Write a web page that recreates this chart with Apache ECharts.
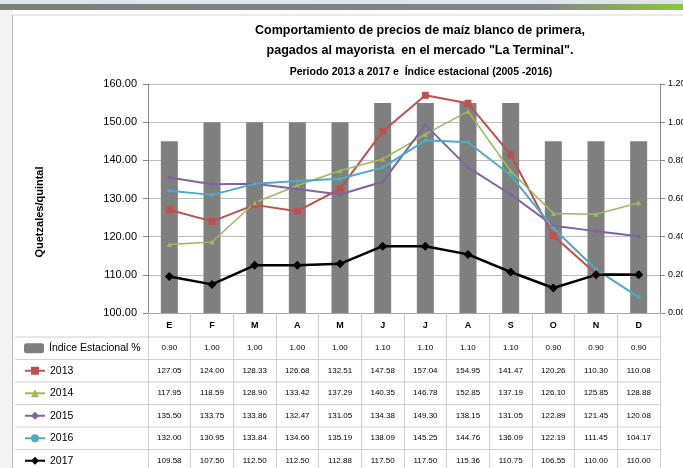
<!DOCTYPE html>
<html>
<head>
<meta charset="utf-8">
<script src="https://cdn.jsdelivr.net/npm/echarts@6/dist/echarts.min.js"></script>
<style>
html, body { margin: 0; padding: 0; background: #fff; }
#chart { width: 683px; height: 468px; }
</style>
</head>
<body>
<div id="chart"></div>
<script>
var meses = ['E', 'F', 'M', 'A', 'M', 'J', 'J', 'A', 'S', 'O', 'N', 'D'];
var indiceEstacional = [0.90, 1.00, 1.00, 1.00, 1.00, 1.10, 1.10, 1.10, 1.10, 0.90, 0.90, 0.90];
var precios2013 = [127.05, 124.00, 128.33, 126.68, 132.51, 147.58, 157.04, 154.95, 141.47, 120.26, 110.30, 110.08];
var precios2014 = [117.95, 118.59, 128.90, 133.42, 137.29, 140.35, 146.78, 152.85, 137.19, 126.10, 125.85, 128.88];
var precios2015 = [135.50, 133.75, 133.86, 132.47, 131.05, 134.38, 149.30, 138.15, 131.05, 122.89, 121.45, 120.08];
var precios2016 = [132.00, 130.95, 133.84, 134.60, 135.19, 138.09, 145.25, 144.76, 136.09, 122.19, 111.45, 104.17];
var precios2017 = [109.58, 107.50, 112.50, 112.50, 112.88, 117.50, 117.50, 115.36, 110.75, 106.55, 110.00, 110.00];
var leftTicks = [100, 110, 120, 130, 140, 150, 160];
var rightTicks = [0, 0.2, 0.4, 0.6, 0.8, 1.0, 1.2];

var FONT = 'Liberation Sans, Arial, sans-serif';
var plotTop = 84, plotBottom = 313, plotLeft = 148, plotRight = 660;
var rowTop = 337, rowH = 22.5;

var nombres = ['Índice Estacional %', '2013', '2014', '2015', '2016', '2017'];
var filas = [indiceEstacional, precios2013, precios2014, precios2015, precios2016, precios2017];

// ejes extra = filas de la tabla de datos
var ejesTabla = filas.map(function (fila, i) {
    return {
        type: 'category',
        gridIndex: 0,
        position: 'bottom',
        offset: rowTop + rowH * i + rowH / 2 - plotBottom - 5,
        data: fila.map(function (v) { return v.toFixed(2); }),
        axisLine: { show: false },
        axisTick: { show: false },
        splitLine: { show: false },
        axisLabel: { interval: 0, margin: 0, fontSize: 8, lineHeight: 10, color: '#000', fontFamily: FONT },
        silent: true
    };
});

// una leyenda por fila, a la izquierda de la tabla
var leyendas = nombres.map(function (n, i) {
    return {
        orient: 'vertical',
        left: 24,
        top: rowTop + rowH * i + rowH / 2 - 6,
        padding: 0,
        itemWidth: 20,
        itemHeight: 10,
        selectedMode: false,
        textStyle: { fontSize: 10.5, lineHeight: 12, color: '#000', fontFamily: FONT },
        data: [n]
    };
});

var lineasTabla = [];
for (var i = 0; i <= filas.length; i++) {
    lineasTabla.push({
        type: 'line',
        shape: { x1: 15, y1: rowTop + rowH * i, x2: plotRight, y2: rowTop + rowH * i },
        style: { stroke: '#d0d0d0', lineWidth: 1 },
        silent: true
    });
}

function serieLinea(nombre, datos, color, simbolo, tam, ancho) {
    return {
        name: nombre,
        type: 'line',
        xAxisIndex: 0,
        yAxisIndex: 0,
        data: datos,
        symbol: simbolo,
        symbolSize: tam,
        showSymbol: true,
        lineStyle: { color: color, width: ancho },
        itemStyle: { color: color },
        z: 3
    };
}

var option = {
    backgroundColor: '#fff',
    animation: false,
    grid: {
        left: plotLeft,
        right: 683 - plotRight,
        top: plotTop,
        height: plotBottom - plotTop,
        outerBoundsMode: 'none'
    },
    legend: leyendas,
    xAxis: [{
        type: 'category',
        gridIndex: 0,
        data: meses,
        axisLine: { show: true, lineStyle: { color: '#a6a6a6' } },
        axisTick: { show: true, interval: 0, length: 468 - plotBottom, lineStyle: { color: '#d0d0d0' } },
        axisLabel: { interval: 0, margin: 7, fontSize: 9, fontWeight: 'bold', lineHeight: 11, color: '#000', fontFamily: FONT }
    }].concat(ejesTabla),
    yAxis: [{
        type: 'value',
        position: 'left',
        min: leftTicks[0],
        max: leftTicks[leftTicks.length - 1],
        interval: 10,
        axisLine: { show: true, lineStyle: { color: '#868686' } },
        axisTick: { show: true, length: 5, lineStyle: { color: '#868686' } },
        axisLabel: { margin: 11, fontSize: 11, color: '#000', fontFamily: FONT, formatter: function (v) { return v.toFixed(2); } },
        splitLine: { show: true, lineStyle: { color: '#bfbfbf' } }
    }, {
        type: 'value',
        position: 'right',
        min: rightTicks[0],
        max: rightTicks[rightTicks.length - 1],
        interval: 0.2,
        axisLine: { show: true, lineStyle: { color: '#868686' } },
        axisTick: { show: true, length: 5, lineStyle: { color: '#868686' } },
        axisLabel: { margin: 8, fontSize: 9, color: '#000', fontFamily: FONT, formatter: function (v) { return v.toFixed(2); } },
        splitLine: { show: false }
    }],
    series: [{
        name: nombres[0],
        type: 'bar',
        xAxisIndex: 0,
        yAxisIndex: 1,
        data: indiceEstacional,
        barWidth: 17,
        itemStyle: { color: '#7f7f7f' },
        z: 2
    },
    serieLinea('2013', precios2013, '#c0504d', 'rect', 7, 2),
    serieLinea('2014', precios2014, '#9bbb59', 'triangle', 5, 1.5),
    serieLinea('2015', precios2015, '#8064a2', 'diamond', 5, 2),
    serieLinea('2016', precios2016, '#4bacc6', 'circle', 4, 2),
    serieLinea('2017', precios2017, '#000000', 'diamond', 9, 2.5)
    ],
    graphic: [
        { type: 'rect', shape: { x: 0, y: 0, width: 683, height: 4 }, style: { fill: '#dfe5ec' }, silent: true },
        { type: 'rect', shape: { x: 0, y: 4, width: 683, height: 6 },
          style: { fill: new echarts.graphic.LinearGradient(0, 0, 1, 0, [
              { offset: 0, color: '#7d7d7d' }, { offset: 0.8, color: '#858585' }, { offset: 1, color: '#8cc63f' }]) }, silent: true },
        { type: 'rect', shape: { x: 0, y: 10, width: 12, height: 458 }, style: { fill: '#f3f3f3' }, silent: true },
        { type: 'line', shape: { x1: 12, y1: 15, x2: 683, y2: 15 }, style: { stroke: '#d4d4d4', lineWidth: 1 }, silent: true },
        { type: 'line', shape: { x1: 12.5, y1: 15, x2: 12.5, y2: 468 }, style: { stroke: '#b8b8b8', lineWidth: 1 }, silent: true },
        { type: 'text', x: 420, y: 31, style: { text: 'Comportamiento de precios de maíz blanco de primera,', fontSize: 12.5, fontWeight: 'bold', fontFamily: FONT, fill: '#000', align: 'center', verticalAlign: 'middle' } },
        { type: 'text', x: 420, y: 51, style: { text: 'pagados al mayorista  en el mercado "La Terminal".', fontSize: 12.5, fontWeight: 'bold', fontFamily: FONT, fill: '#000', align: 'center', verticalAlign: 'middle' } },
        { type: 'text', x: 421, y: 72, style: { text: 'Periodo 2013 a 2017 e  Índice estacional (2005 -2016)', fontSize: 10.5, fontWeight: 'bold', fontFamily: FONT, fill: '#000', align: 'center', verticalAlign: 'middle' } },
        { type: 'text', x: 40, y: 212, rotation: Math.PI / 2, style: { text: 'Quetzales/quintal', fontSize: 11, fontWeight: 'bold', fontFamily: FONT, fill: '#000', align: 'center', verticalAlign: 'middle' } }
    ].concat(lineasTabla)
};

var chart = echarts.init(document.getElementById('chart'));
chart.setOption(option);
</script>
</body>
</html>
